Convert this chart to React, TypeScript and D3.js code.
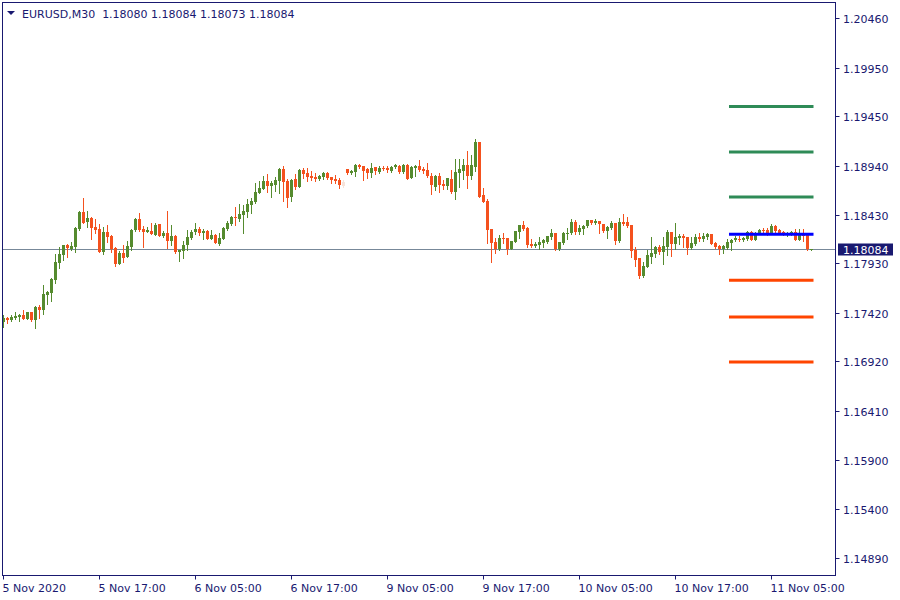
import React from "react";
import * as d3 from "d3";

const symbolTitle = "EURUSD,M30";
const lastQuote = ["1.18080", "1.18084", "1.18073", "1.18084"];
const timeLabels = ["5 Nov 2020", "5 Nov 17:00", "6 Nov 05:00", "6 Nov 17:00", "9 Nov 05:00", "9 Nov 17:00", "10 Nov 05:00", "10 Nov 17:00", "11 Nov 05:00"];
const timeLabelBars = [0, 24, 48, 72, 96, 120, 144, 168, 192];
const priceTicks = [1.2046, 1.1995, 1.1945, 1.1894, 1.1843, 1.1793, 1.1742, 1.1692, 1.1641, 1.159, 1.154, 1.1489];
const currentPrice = 1.18084;
const resistanceLevels = [1.1955, 1.1908, 1.18616];
const pivotLevel = [1.1823];
const supportLevels = [1.17756, 1.17378, 1.16913];
const levelStartBar = 182;
const fadedBar = 85;

const opens = [
1.17330,1.17371,1.17347,1.17367,1.17378,1.17398,1.17357,1.17429,1.17350,1.17481,
1.17453,1.17605,1.17629,1.17760,1.17938,1.18021,1.18121,1.18083,1.18104,1.18286,
1.18465,1.18358,1.18403,1.18310,1.18286,1.18052,1.18255,1.18217,1.18090,1.17928,
1.18038,1.18000,1.18104,1.18276,1.18393,1.18286,1.18258,1.18265,1.18224,1.18338,
1.18217,1.18248,1.18162,1.18214,1.18052,1.18062,1.18121,1.18196,1.18252,1.18286,
1.18245,1.18265,1.18183,1.18224,1.18131,1.18183,1.18286,1.18338,1.18410,1.18389,
1.18430,1.18461,1.18534,1.18567,1.18657,1.18698,1.18781,1.18733,1.18739,1.18784,
1.18905,1.18784,1.18619,1.18801,1.18722,1.18894,1.18863,1.18836,1.18825,1.18805,
1.18825,1.18863,1.18825,1.18805,1.18791,1.18774,1.18905,1.18867,1.18877,1.18949,
1.18935,1.18905,1.18867,1.18925,1.18874,1.18918,1.18918,1.18887,1.18925,1.18939,
1.18877,1.18949,1.18815,1.18918,1.18935,1.18905,1.18894,1.18836,1.18722,1.18836,
1.18753,1.18733,1.18805,1.18671,1.18867,1.18887,1.18949,1.18836,1.18929,1.19183,
1.18636,1.18574,1.18285,1.18155,1.18082,1.18196,1.18196,1.18082,1.18155,1.18258,
1.18327,1.18299,1.18131,1.18113,1.18120,1.18137,1.18151,1.18199,1.18244,1.18082,
1.18141,1.18234,1.18244,1.18358,1.18254,1.18285,1.18316,1.18378,1.18347,1.18368,
1.18337,1.18265,1.18296,1.18347,1.18161,1.18358,1.18358,1.18327,1.18069,1.17989,
1.17804,1.17897,1.18000,1.18031,1.18103,1.18051,1.18103,1.18254,1.18131,1.18192,
1.18213,1.18203,1.18089,1.18131,1.18203,1.18182,1.18203,1.18234,1.18141,1.18110,
1.18082,1.18093,1.18141,1.18172,1.18186,1.18172,1.18182,1.18254,1.18172,1.18244,
1.18275,1.18275,1.18234,1.18316,1.18275,1.18254,1.18223,1.18234,1.18254,1.18172,
1.18244,1.18223,1.18080];

const highs = [
1.17398,1.17378,1.17398,1.17429,1.17409,1.17450,1.17429,1.17429,1.17491,1.17505,
1.17708,1.17646,1.17780,1.18028,1.18100,1.18121,1.18131,1.18152,1.18307,1.18475,
1.18606,1.18472,1.18413,1.18389,1.18338,1.18307,1.18327,1.18224,1.18100,1.18059,
1.18117,1.18162,1.18286,1.18399,1.18451,1.18317,1.18307,1.18348,1.18348,1.18338,
1.18265,1.18472,1.18327,1.18224,1.18069,1.18162,1.18276,1.18276,1.18348,1.18307,
1.18286,1.18276,1.18276,1.18234,1.18245,1.18307,1.18368,1.18420,1.18513,1.18544,
1.18534,1.18596,1.18606,1.18763,1.18781,1.18832,1.18853,1.18781,1.18825,1.18915,
1.18939,1.18801,1.18801,1.18853,1.18905,1.18915,1.18915,1.18884,1.18863,1.18846,
1.18874,1.18874,1.18825,1.18846,1.18812,1.18791,1.18905,1.18894,1.18960,1.18960,
1.18935,1.18915,1.18966,1.18925,1.18935,1.18935,1.18935,1.18935,1.18956,1.18949,
1.18960,1.18960,1.18935,1.18949,1.18997,1.18925,1.18970,1.18867,1.18846,1.18860,
1.18791,1.18815,1.18894,1.19008,1.19008,1.19008,1.19090,1.19052,1.19214,1.19183,
1.18708,1.18595,1.18285,1.18189,1.18223,1.18241,1.18196,1.18165,1.18268,1.18327,
1.18371,1.18309,1.18182,1.18155,1.18206,1.18186,1.18213,1.18289,1.18244,1.18151,
1.18254,1.18296,1.18389,1.18378,1.18327,1.18327,1.18378,1.18378,1.18389,1.18368,
1.18337,1.18316,1.18368,1.18347,1.18399,1.18440,1.18409,1.18327,1.18100,1.17989,
1.17948,1.18069,1.18203,1.18113,1.18120,1.18203,1.18275,1.18254,1.18347,1.18234,
1.18234,1.18203,1.18203,1.18234,1.18244,1.18244,1.18244,1.18234,1.18151,1.18120,
1.18120,1.18182,1.18182,1.18213,1.18213,1.18203,1.18265,1.18265,1.18254,1.18285,
1.18296,1.18296,1.18337,1.18327,1.18285,1.18265,1.18254,1.18265,1.18285,1.18285,
1.18285,1.18244,1.18084];

const lows = [
1.17278,1.17319,1.17336,1.17357,1.17340,1.17357,1.17357,1.17340,1.17268,1.17371,
1.17412,1.17515,1.17546,1.17732,1.17883,1.17963,1.17997,1.18069,1.18052,1.18276,
1.18351,1.18307,1.18186,1.18248,1.18052,1.18031,1.18155,1.18052,1.17908,1.17928,
1.17949,1.18000,1.18073,1.18265,1.18265,1.18100,1.18258,1.18238,1.18224,1.18214,
1.18207,1.18086,1.18121,1.18038,1.17956,1.17990,1.18069,1.18183,1.18234,1.18224,
1.18183,1.18183,1.18183,1.18138,1.18121,1.18183,1.18276,1.18327,1.18327,1.18368,
1.18245,1.18410,1.18451,1.18557,1.18657,1.18698,1.18671,1.18619,1.18677,1.18660,
1.18578,1.18516,1.18578,1.18702,1.18722,1.18815,1.18781,1.18791,1.18781,1.18794,
1.18805,1.18805,1.18763,1.18763,1.18712,1.18722,1.18856,1.18856,1.18836,1.18918,
1.18791,1.18815,1.18825,1.18856,1.18867,1.18894,1.18877,1.18877,1.18915,1.18867,
1.18867,1.18805,1.18815,1.18836,1.18887,1.18867,1.18825,1.18650,1.18688,1.18671,
1.18702,1.18702,1.18660,1.18598,1.18722,1.18805,1.18712,1.18805,1.18887,1.18619,
1.18564,1.18137,1.17948,1.18041,1.18072,1.18137,1.18031,1.18082,1.18155,1.18196,
1.18278,1.18103,1.18096,1.18103,1.18082,1.18103,1.18137,1.18186,1.18069,1.18072,
1.18131,1.18182,1.18234,1.18234,1.18234,1.18234,1.18306,1.18337,1.18337,1.18244,
1.18254,1.18192,1.18285,1.18131,1.18151,1.18327,1.18306,1.18000,1.17907,1.17783,
1.17793,1.17897,1.17938,1.18000,1.18031,1.17928,1.18020,1.18010,1.18079,1.18131,
1.18100,1.18031,1.18082,1.18124,1.18161,1.18161,1.18182,1.18131,1.18089,1.18031,
1.18041,1.18082,1.18072,1.18161,1.18161,1.18161,1.18172,1.18172,1.18172,1.18234,
1.18244,1.18223,1.18234,1.18254,1.18234,1.18223,1.18213,1.18223,1.18172,1.18172,
1.18161,1.18072,1.18073];

const closes = [
1.17364,1.17350,1.17378,1.17388,1.17398,1.17357,1.17429,1.17347,1.17481,1.17450,
1.17615,1.17639,1.17770,1.17945,1.18028,1.18121,1.18086,1.18110,1.18296,1.18465,
1.18351,1.18403,1.18300,1.18276,1.18052,1.18255,1.18207,1.18083,1.17925,1.18038,
1.17990,1.18110,1.18276,1.18393,1.18276,1.18258,1.18276,1.18238,1.18327,1.18214,
1.18248,1.18162,1.18214,1.18045,1.18069,1.18121,1.18203,1.18255,1.18286,1.18245,
1.18265,1.18183,1.18224,1.18145,1.18193,1.18296,1.18348,1.18410,1.18399,1.18441,
1.18472,1.18544,1.18575,1.18667,1.18708,1.18781,1.18733,1.18763,1.18791,1.18905,
1.18774,1.18609,1.18791,1.18722,1.18894,1.18856,1.18825,1.18815,1.18805,1.18836,
1.18863,1.18815,1.18794,1.18784,1.18743,1.18733,1.18863,1.18884,1.18949,1.18929,
1.18887,1.18863,1.18915,1.18887,1.18915,1.18905,1.18894,1.18925,1.18946,1.18874,
1.18949,1.18805,1.18925,1.18939,1.18898,1.18887,1.18832,1.18743,1.18836,1.18739,
1.18733,1.18815,1.18667,1.18877,1.18908,1.18949,1.18836,1.18949,1.19183,1.18619,
1.18564,1.18278,1.18144,1.18082,1.18196,1.18179,1.18082,1.18165,1.18268,1.18327,
1.18289,1.18124,1.18113,1.18131,1.18155,1.18172,1.18213,1.18241,1.18079,1.18151,
1.18244,1.18244,1.18358,1.18254,1.18296,1.18316,1.18378,1.18347,1.18368,1.18337,
1.18265,1.18306,1.18347,1.18161,1.18358,1.18337,1.18316,1.18062,1.17969,1.17804,
1.17907,1.18017,1.18041,1.18103,1.18051,1.18113,1.18254,1.18131,1.18203,1.18213,
1.18192,1.18089,1.18141,1.18203,1.18182,1.18213,1.18234,1.18131,1.18100,1.18082,
1.18110,1.18151,1.18172,1.18192,1.18172,1.18192,1.18254,1.18172,1.18244,1.18275,
1.18265,1.18234,1.18316,1.18265,1.18244,1.18234,1.18244,1.18254,1.18172,1.18244,
1.18213,1.18082,1.18084];

const NAVY = "#191970";
const BULL = "#558b2f";
const BEAR = "#f4511e";
const FONT = "'DejaVu Sans', Verdana, sans-serif";

export default function App() {
  const W = 900, H = 600;
  const plotLeft = 2.5, plotRight = 835.5, plotTop = 2.5, plotBottom = 575.5;
  const n = opens.length;
  const x = d3.scaleLinear().domain([0, n - 1]).range([3, 3 + 4 * (n - 1)]);
  const y = d3.scaleLinear().domain([1.1489, 1.2046]).range([558, 18.3]);

  const candles = d3.range(n).map((i) => {
    const o = opens[i], c = closes[i], h = highs[i], l = lows[i];
    const cx = Math.round(x(i));
    const up = c >= o;
    const color = i === fadedBar ? "#f7e3da" : up ? BULL : BEAR;
    const top = Math.round(y(Math.max(o, c)));
    const bot = Math.round(y(Math.min(o, c)));
    const bh = Math.max(1, bot - top);
    return (
      <g key={i}>
        <line x1={cx + 0.5} x2={cx + 0.5} y1={Math.round(y(h))} y2={Math.round(y(l)) + 1} stroke={color} strokeWidth={1} />
        <rect x={cx - 1} y={top} width={3} height={bh} fill={color} />
      </g>
    );
  });

  const levelLine = (p: number, color: string, key: string) => (
    <line key={key} x1={x(levelStartBar) - 0.5} x2={x(n - 1) + 1} y1={y(p)} y2={y(p)} stroke={color} strokeWidth={3} strokeLinecap="square" />
  );

  const cp = Math.round(y(currentPrice)) + 0.5;

  return (
    <svg width={W} height={H} style={{ position: "absolute", left: 0, top: 0, background: "#fff" }} fontFamily={FONT}>
      <rect x={0} y={0} width={W} height={H} fill="#ffffff" />
      <defs>
        <clipPath id="plot">
          <rect x={3} y={3} width={plotRight - 3} height={plotBottom - 3} />
        </clipPath>
      </defs>
      <line x1={3} x2={plotRight} y1={cp} y2={cp} stroke="#778899" strokeWidth={1} />
      <g clipPath="url(#plot)">{candles}</g>
      {resistanceLevels.map((p, i) => levelLine(p, "#2e8b57", "r" + i))}
      {pivotLevel.map((p, i) => levelLine(p, "#0000ff", "p" + i))}
      {supportLevels.map((p, i) => levelLine(p, "#ff4500", "s" + i))}

      <rect x={plotLeft} y={plotTop} width={plotRight - plotLeft} height={plotBottom - plotTop} fill="none" stroke={NAVY} strokeWidth={1} />

      {priceTicks.map((p, i) => {
        const yy = Math.round(y(p)) + 0.5;
        return (
          <g key={"pt" + i}>
            <line x1={plotRight} x2={plotRight + 4} y1={yy} y2={yy} stroke={NAVY} />
            <text x={843} y={yy + 4} fontSize={11} fill={NAVY}>{p.toFixed(5)}</text>
          </g>
        );
      })}

      <rect x={838} y={cp - 6} width={55} height={12} fill={NAVY} />
      <text x={843} y={cp + 4} fontSize={11} fill="#ffffff">{currentPrice.toFixed(5)}</text>

      {timeLabelBars.map((b, i) => {
        const xx = Math.round(x(b)) + 0.5;
        return (
          <g key={"tl" + i}>
            <line x1={xx} x2={xx} y1={plotBottom} y2={plotBottom + 4} stroke={NAVY} />
            <text x={xx - 1} y={592} fontSize={11} fill={NAVY}>{timeLabels[i]}</text>
          </g>
        );
      })}

      <path d="M7,11 L15,11 L11,15 Z" fill={NAVY} />
      <text x={22} y={18} fontSize={11} fill={NAVY} xmlSpace="preserve">
        {symbolTitle + "  " + lastQuote.join(" ")}
      </text>
    </svg>
  );
}
